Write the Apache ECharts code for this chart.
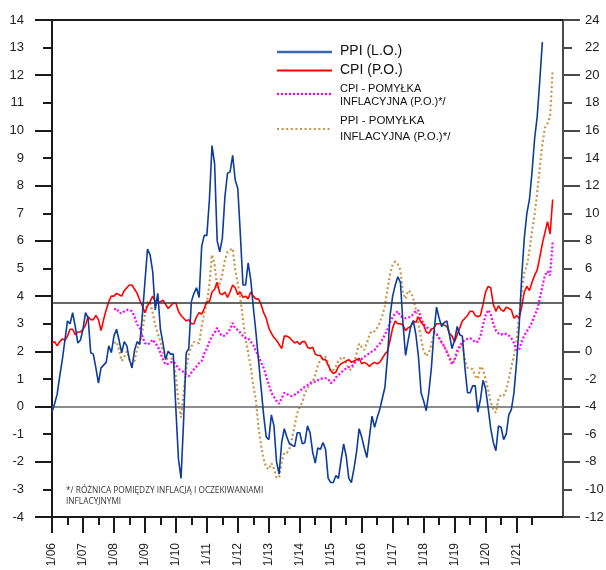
<!DOCTYPE html>
<html>
<head>
<meta charset="utf-8">
<script src="https://cdn.jsdelivr.net/npm/echarts@6/dist/echarts.min.js"></script>
<style>
  html, body { margin: 0; padding: 0; background: #ffffff; }
  #chart { width: 606px; height: 570px; }
</style>
</head>
<body>
<div id="chart"></div>
<script>
// Monthly series, first value = January 2006 (month index 0).

// PPI, y/y % (left axis), Jan 2006 - Nov 2021
const ppi = [
  -0.2, 0.1, 0.45, 1.1, 1.7, 2.4, 3.1, 3.0, 3.4, 2.9, 2.3, 2.4,
  2.8, 3.4, 3.2, 1.95, 1.9, 1.4, 0.85, 1.4, 1.5, 1.6, 2.2, 1.95,
  2.55, 2.8, 2.4, 1.95, 2.35, 2.2, 1.7, 1.4, 2.05, 2.35, 2.25, 3.3,
  4.5, 5.7, 5.5, 4.9, 3.5, 4.1, 2.8, 2.3, 1.7, 2.0, 1.9, 1.9,
  -0.1, -1.9, -2.6, -0.5, 1.95, 2.1, 3.8, 4.1, 4.3, 3.95, 5.8, 6.2,
  6.2, 7.5, 9.45, 8.8, 6.0, 5.6, 6.1, 7.6, 8.45, 8.5, 9.1, 8.2,
  7.9, 6.2, 4.4, 4.4, 5.2, 4.6, 3.6, 2.7, 1.7, 0.7, -0.3, -1.1,
  -1.2, -0.3, -0.7, -2.0, -2.45, -1.3, -0.8, -1.1, -1.35, -1.4, -1.45, -0.95,
  -0.95, -1.35, -1.3, -0.7, -0.95, -1.65, -2.05, -1.5, -1.55, -1.3, -1.55, -2.6,
  -2.75, -2.75, -2.5, -2.6, -1.95, -1.35, -1.8, -2.6, -2.75, -2.25, -1.65, -0.8,
  -1.1, -1.5, -1.85, -1.1, -0.35, -0.75, -0.4, -0.1, 0.3, 0.7, 1.8, 3.3,
  4.0, 4.4, 4.7, 4.5, 3.0, 1.85, 2.4, 2.9, 3.1, 2.6, 1.8, 0.5,
  0.2, -0.15, 0.5, 1.4, 2.7, 3.6, 3.2, 2.9, 3.05, 3.1, 2.6, 2.1,
  2.4, 2.9, 2.6, 2.55, 1.4, 0.5, 0.5, 0.75, 0.75, -0.2, 0.25, 0.95,
  0.65, -0.05, -0.8, -1.3, -1.6, -0.7, -0.75, -1.2, -1.0, -0.3, -0.1, 0.5,
  1.6, 2.9, 4.7, 6.1, 7.0, 7.5, 8.5, 9.7, 10.5, 11.8, 13.2
];

// CPI, y/y % (right axis), Jan 2006 - Mar 2022
const cpi = [
  0.6, 0.7, 0.4, 0.7, 0.9, 0.8, 1.1, 1.6, 1.6, 1.2, 1.4, 1.4,
  1.6, 1.9, 2.5, 2.3, 2.3, 2.6, 2.3, 1.5, 2.3, 3.0, 3.6, 4.0,
  4.0, 4.2, 4.1, 4.0, 4.4, 4.6, 4.8, 4.8, 4.5, 4.2, 3.7, 3.3,
  2.8, 3.3, 3.6, 4.0, 3.6, 3.5, 3.6, 3.7, 3.4, 3.1, 3.3, 3.5,
  3.5, 2.9, 2.6, 2.4, 2.2, 2.3, 2.0, 2.0, 2.5, 2.8, 2.7, 3.1,
  3.6, 3.6, 4.3, 4.5, 5.0, 4.2, 4.1, 4.3, 3.9, 4.3, 4.8, 4.6,
  4.1, 4.3, 3.9, 4.0, 3.8, 4.3, 4.0, 3.8, 3.8, 3.4, 2.8, 2.4,
  1.7, 1.3, 1.0, 0.8, 0.5, 0.2, 1.1, 1.1, 1.0, 0.8, 0.6, 0.7,
  0.5, 0.7, 0.7, 0.3, 0.2, 0.3, -0.2, -0.3, -0.3, -0.6, -0.6, -1.0,
  -1.4, -1.6, -1.5, -1.1, -0.9, -0.8, -0.7, -0.6, -0.8, -0.7, -0.6, -0.5,
  -0.9, -0.8, -0.9, -1.1, -0.9, -0.8, -0.9, -0.8, -0.5, -0.2, 0.0, 0.8,
  1.7, 2.2, 2.0, 2.0, 1.9, 1.5, 1.7, 1.8, 2.2, 2.1, 2.5, 2.1,
  1.9, 1.4, 1.3, 1.6, 1.7, 2.0, 2.0, 2.0, 1.9, 1.8, 1.3, 1.1,
  0.7, 1.2, 1.7, 2.2, 2.4, 2.6, 2.9, 2.9, 2.6, 2.5, 2.6, 3.4,
  4.3, 4.7, 4.6, 3.4, 2.9, 3.3, 3.0, 2.9, 3.2, 3.1, 3.0, 2.4,
  2.6, 2.4, 3.2, 4.3, 4.7, 4.4, 5.0, 5.5, 5.9, 6.8, 7.8, 8.6,
  9.4, 8.5, 11.0
];

// Inflation errors (right axis) start in January 2008
const ERR_START = 24;

// CPI inflation error
const cpiErr = [
  3.05, 3.1, 2.8, 2.75, 2.9, 3.0, 3.0, 2.9, 2.5, 1.95, 1.7, 1.1,
  0.6, 0.5, 0.6, 0.85, 0.6, 0.35, -0.1, -0.6, -0.95, -0.9, -0.8, -0.75,
  -0.95, -1.25, -1.4, -1.5, -1.7, -1.8, -1.55, -1.3, -1.1, -0.85, -0.7, -0.15,
  0.2, 0.7, 1.1, 1.35, 1.7, 1.3, 1.1, 1.15, 1.35, 1.6, 2.05, 1.65,
  1.55, 1.35, 1.1, 0.95, 0.95, 0.7, 0.45, 0.0, -0.35, -0.8, -1.2, -1.8,
  -2.4, -3.0, -3.3, -3.6, -3.8, -3.4, -3.0, -3.1, -3.2, -3.25, -3.15, -3.0,
  -2.9, -2.7, -2.55, -2.45, -2.3, -2.2, -2.2, -2.1, -2.0, -1.95, -1.95, -2.0,
  -2.3, -2.2, -1.9, -1.7, -1.55, -1.35, -1.25, -1.15, -1.1, -0.9, -0.7, -0.6,
  -0.55, -0.4, -0.25, -0.15, 0.0, 0.1, 0.35, 0.55, 0.85, 1.2, 1.6, 2.1,
  2.5, 2.75, 2.9, 2.55, 2.45, 2.4, 2.45, 2.5, 2.7, 2.95, 2.95, 2.4,
  2.0, 1.75, 1.65, 1.55, 1.45, 1.25, 0.95, 0.65, 0.35, -0.05, -0.5, -0.95,
  -0.6, 0.05, 0.4, 0.65, 0.85, 0.9, 0.95, 0.85, 0.65, 0.7, 1.1, 1.9,
  2.6, 3.0, 2.7, 2.0, 1.5, 1.3, 1.2, 1.3, 1.25, 1.15, 0.95, 0.6,
  0.1, 0.1, 0.7, 1.15, 1.45, 1.75, 2.1, 2.6, 3.0, 3.8, 4.7, 5.5,
  5.8, 5.5, 7.9
];

// PPI inflation error
const ppiErr = [
  0.6, 0.7, 0.1, -0.7, -0.4, 0.0, -0.6, -0.9, -0.7, 0.2, 0.6, 1.4,
  2.7, 3.6, 3.5, 2.8, 1.9, 1.3, 0.7, 0.0, -0.6, -0.5, -0.5, -0.6,
  -1.8, -3.7, -4.8, -3.0, -1.3, -0.2, 0.35, 0.7, 0.6, 0.6, 1.8, 2.8,
  3.5, 4.9, 7.0, 6.3, 4.6, 4.9, 5.6, 6.6, 7.2, 7.35, 7.45, 5.9,
  4.9, 3.8, 2.3, 0.9, -0.1, -1.1, -2.5, -3.5, -5.5, -6.8, -7.8, -8.4,
  -8.55, -8.1, -8.5, -9.15, -9.15, -8.0, -7.35, -7.35, -7.1, -6.3, -5.4, -4.5,
  -4.0, -3.7, -3.0, -2.65, -2.45, -2.2, -1.7, -1.05, -0.6, -0.4, -0.4, -0.9,
  -1.45, -1.35, -1.1, -0.65, -0.5, -0.4, -0.85, -1.3, -1.35, -0.9, -0.15, 0.55,
  0.3, 0.1, 0.6, 1.2, 1.5, 1.45, 1.7, 2.1, 2.6, 3.3, 4.5, 5.6,
  6.3, 6.5, 6.3, 5.9, 4.2, 3.8, 4.4, 4.3, 3.8, 3.0, 2.0, 0.9,
  0.0, -0.35, -0.1, 0.5, 1.35, 1.3, 1.0, 0.6, 0.35, 0.0, -0.45, -0.65,
  -0.6, -0.15, 0.25, 0.5, -0.6, -1.2, -1.2, -1.3, -1.8, -2.0, -1.1, -1.3,
  -2.0, -2.8, -3.7, -4.2, -4.45, -3.4, -3.15, -3.2, -2.8, -2.0, -1.1, -0.3,
  0.8, 2.6, 4.3, 5.7, 6.2, 7.3, 8.7, 9.9, 11.5, 13.3, 15.0, 16.2,
  16.5, 17.0, 20.4
];

// Year labels on the time axis (one per January)
const yearLabels = [
  '1/06', '1/07', '1/08', '1/09', '1/10', '1/11', '1/12', '1/13',
  '1/14', '1/15', '1/16', '1/17', '1/18', '1/19', '1/20', '1/21'
];

// Axis ranges
const leftMin = -4, leftMax = 14;
const rightMin = -12, rightMax = 24;
const CPI_TARGET_UPPER = 3.5;   // upper bound of the tolerance band

const monthMax = 198;
const majorMonths = yearLabels.map((_, i) => i * 12);
const minorMonths = yearLabels.map((_, i) => i * 12 + 6);

function range(a, b, step) {
  const out = [];
  for (let v = a; v <= b + 1e-9; v += step) out.push(v);
  return out;
}
const leftMajor = range(leftMin, leftMax, 2);
const leftMinor = range(leftMin + 1, leftMax - 1, 2);
const rightMajor = range(rightMin, rightMax, 4);
const rightMinor = range(rightMin + 2, rightMax - 2, 4);

function toPoints(values, offset) {
  return values.map((v, i) => [i + offset, v]);
}

const AXIS_FONT = '"Liberation Sans", Arial, sans-serif';
const axisColor = '#1a1a1a';
const rightAxisColor = '#4a4a4a';

const hiddenAxisParts = {
  axisLabel: { show: false },
  splitLine: { show: false }
};

const chart = echarts.init(document.getElementById('chart'), null, { renderer: 'canvas' });

const option = {
  animation: false,
  backgroundColor: '#ffffff',
  grid: { left: 52, right: 43, top: 20, bottom: 53, containLabel: false, outerBoundsMode: 'none' },
  xAxis: [
    {
      type: 'value', min: 0, max: monthMax, position: 'bottom',
      axisLine: { show: true, onZero: false, lineStyle: { color: axisColor, width: 2 } },
      axisTick: { show: true, customValues: majorMonths, length: 16, lineStyle: { color: axisColor, width: 2 } },
      axisLabel: {
        customValues: majorMonths,
        formatter: v => yearLabels[Math.round(v / 12)] || '',
        rotate: 90, margin: 26, fontSize: 12, color: '#222', fontFamily: AXIS_FONT
      },
      splitLine: { show: false }
    },
    {
      type: 'value', min: 0, max: monthMax, position: 'bottom',
      axisLine: { show: false, onZero: false },
      axisTick: { show: true, customValues: minorMonths, length: 8, lineStyle: { color: axisColor, width: 2 } },
      ...hiddenAxisParts
    },
    {
      type: 'value', min: 0, max: monthMax, position: 'top',
      axisLine: { show: true, onZero: false, lineStyle: { color: axisColor, width: 2 } },
      axisTick: { show: false },
      ...hiddenAxisParts
    }
  ],
  yAxis: [
    {
      type: 'value', min: leftMin, max: leftMax, interval: 1, position: 'left',
      axisLine: { show: true, onZero: false, lineStyle: { color: axisColor, width: 2 } },
      axisTick: { show: true, customValues: leftMajor, length: 17, lineStyle: { color: axisColor, width: 2 } },
      axisLabel: { margin: 28, fontSize: 13, color: '#222', fontFamily: AXIS_FONT },
      splitLine: { show: false }
    },
    {
      type: 'value', min: leftMin, max: leftMax, interval: 1, position: 'left',
      axisLine: { show: false, onZero: false },
      axisTick: { show: true, customValues: leftMinor, length: 9, lineStyle: { color: axisColor, width: 2 } },
      ...hiddenAxisParts
    },
    {
      type: 'value', min: rightMin, max: rightMax, interval: 2, position: 'right',
      axisLine: { show: true, onZero: false, lineStyle: { color: rightAxisColor, width: 2 } },
      axisTick: { show: true, customValues: rightMajor, length: 17, lineStyle: { color: rightAxisColor, width: 2 } },
      axisLabel: { margin: 22, fontSize: 13, color: '#222', fontFamily: AXIS_FONT },
      splitLine: { show: false }
    },
    {
      type: 'value', min: rightMin, max: rightMax, interval: 2, position: 'right',
      axisLine: { show: false, onZero: false },
      axisTick: { show: true, customValues: rightMinor, length: 9, lineStyle: { color: rightAxisColor, width: 2 } },
      ...hiddenAxisParts
    }
  ],
  series: [
    {
      name: 'PPI - POMYŁKA INFLACYJNA (P.O.)',
      type: 'line', xAxisIndex: 0, yAxisIndex: 2,
      data: toPoints(ppiErr, ERR_START),
      symbol: 'none', silent: true,
      lineStyle: { color: '#c9954e', width: 2.2, type: [2, 2.6], cap: 'butt' },
      z: 2
    },
    {
      name: 'CPI - POMYŁKA INFLACYJNA (P.O.)',
      type: 'line', xAxisIndex: 0, yAxisIndex: 2,
      data: toPoints(cpiErr, ERR_START),
      symbol: 'none', silent: true,
      lineStyle: { color: '#ff00ff', width: 2.2, type: [2, 2], cap: 'butt' },
      z: 3
    },
    {
      name: 'CPI (P.O.)',
      type: 'line', xAxisIndex: 0, yAxisIndex: 2,
      data: toPoints(cpi, 0),
      symbol: 'none', silent: true,
      lineStyle: { color: '#ff0000', width: 1.6 },
      markLine: {
        silent: true, symbol: ['none', 'none'], label: { show: false },
        lineStyle: { color: '#333333', width: 1.5, type: 'solid' },
        data: [{ yAxis: CPI_TARGET_UPPER }]
      },
      z: 4
    },
    {
      name: 'PPI (L.O.)',
      type: 'line', xAxisIndex: 0, yAxisIndex: 0,
      data: toPoints(ppi, 0),
      symbol: 'none', silent: true,
      lineStyle: { color: '#0c3c9c', width: 1.6 },
      markLine: {
        silent: true, symbol: ['none', 'none'], label: { show: false },
        lineStyle: { color: '#666666', width: 1.5, type: 'solid' },
        data: [{ yAxis: 0 }]
      },
      z: 5
    }
  ],
  graphic: [
    // legend
    { type: 'line', shape: { x1: 277, y1: 52, x2: 332, y2: 52 }, style: { stroke: '#3f66b3', lineWidth: 2.5 } },
    { type: 'text', x: 340, y: 51, style: { text: 'PPI (L.O.)', font: '14px "Liberation Sans", Arial, sans-serif', fill: '#111', verticalAlign: 'middle' } },
    { type: 'line', shape: { x1: 277, y1: 70.5, x2: 332, y2: 70.5 }, style: { stroke: '#ff0000', lineWidth: 1.8 } },
    { type: 'text', x: 340, y: 70, style: { text: 'CPI (P.O.)', font: '14px "Liberation Sans", Arial, sans-serif', fill: '#111', verticalAlign: 'middle' } },
    { type: 'line', shape: { x1: 277, y1: 94, x2: 332, y2: 94 }, style: { stroke: '#ff00ff', lineWidth: 2.2, lineDash: [2, 2] } },
    { type: 'text', x: 340, y: 89, style: { text: 'CPI - POMYŁKA', font: '11px "Liberation Sans", Arial, sans-serif', fill: '#111', verticalAlign: 'middle' } },
    { type: 'text', x: 340, y: 102, style: { text: 'INFLACYJNA (P.O.)*/', font: '11px "Liberation Sans", Arial, sans-serif', fill: '#111', verticalAlign: 'middle' } },
    { type: 'line', shape: { x1: 277, y1: 129, x2: 332, y2: 129 }, style: { stroke: '#c9954e', lineWidth: 2.2, lineDash: [2, 2.6] } },
    { type: 'text', x: 340, y: 121, style: { text: 'PPI - POMYŁKA', font: '11.5px "Liberation Sans", Arial, sans-serif', fill: '#111', verticalAlign: 'middle' } },
    { type: 'text', x: 340, y: 137, style: { text: 'INFLACYJNA (P.O.)*/', font: '11.5px "Liberation Sans", Arial, sans-serif', fill: '#111', verticalAlign: 'middle' } },
    // footnote
    { type: 'text', x: 66, y: 491, style: { text: '*/ RÓŻNICA POMIĘDZY INFLACJĄ I OCZEKIWANIAMI', font: '8.3px "Open Sans", sans-serif', fill: '#333', verticalAlign: 'middle' } },
    { type: 'text', x: 66, y: 502, style: { text: 'INFLACYJNYMI', font: '8.3px "Open Sans", sans-serif', fill: '#333', verticalAlign: 'middle' } }
  ]
};

chart.setOption(option);
</script>
</body>
</html>
